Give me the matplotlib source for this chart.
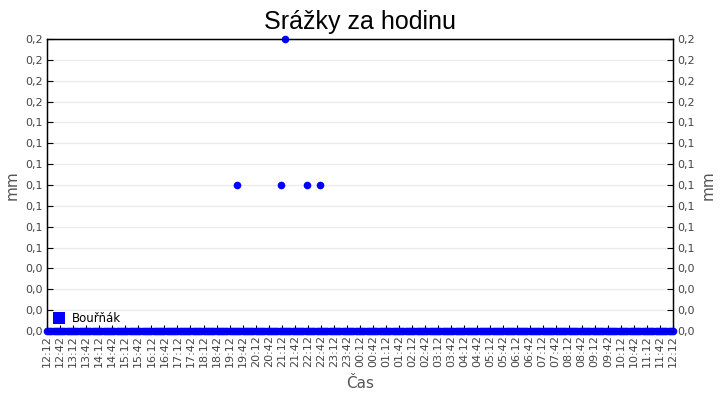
import matplotlib
matplotlib.use("Agg")
import matplotlib.pyplot as plt
import matplotlib.dates as mdates
import numpy as np
import pandas as pd

# ---- data ----
start = pd.Timestamp("2024-01-01 12:12")
end = pd.Timestamp("2024-01-02 12:12")
base_times = pd.date_range(start, end, freq="5min")
base_values = [0.0] * len(base_times)

rain_times = ["2024-01-01 19:30", "2024-01-01 21:10", "2024-01-01 21:19",
              "2024-01-01 22:09", "2024-01-01 22:39"]
rain_values = [0.1, 0.1, 0.2, 0.1, 0.1]

tick_times = pd.date_range(start, end, freq="30min")
tick_labels = [t.strftime("%H:%M") for t in tick_times]

series_name = "Bouřňák"
title = "Srážky za hodinu"

# ---- figure ----
plt.rcParams['font.family'] = ['DejaVu Sans']
fig = plt.figure(figsize=(7.2, 4.0), dpi=100)
ax = fig.add_axes([47/720, 1-331/400, (673-47)/720, (331-39)/400])

x_all = list(base_times) + list(pd.to_datetime(rain_times))
y_all = list(base_values) + list(rain_values)
ax.plot(x_all, y_all, linestyle="none", marker="o", markersize=5.5,
        markeredgewidth=0, color="#0000ff", clip_on=False, zorder=5,
        label=series_name)

ax.set_xlim(start, end)
ax.set_ylim(0, 0.2)
yt = np.linspace(0, 0.2, 15)
ax.set_yticks(yt)
fmt = lambda v: f"{v:.1f}".replace(".", ",")
ax.set_yticklabels([fmt(v) for v in yt])
ax.set_xticks(tick_times)
ax.set_xticklabels(tick_labels, rotation=90)

ax.grid(axis="y", color="#ebebeb", linewidth=1)
ax.set_axisbelow(True)
ax.tick_params(axis="both", direction="in", length=4, color="#000000",
               labelsize=8, labelcolor="#444444", pad=3)
for s in ax.spines.values():
    s.set_color("#000000")
    s.set_linewidth(1)

ax2 = ax.twinx()
ax2.set_ylim(0, 0.2)
ax2.set_yticks(yt)
ax2.set_yticklabels([fmt(v) for v in yt])
ax2.tick_params(axis="y", direction="in", length=4, labelsize=8,
                labelcolor="#444444", pad=3)
ax2.set_ylabel("mm", fontsize=11, color="#555555", labelpad=4)

ax.set_ylabel("mm", fontsize=11, color="#555555", labelpad=4)
ax.set_xlabel("Čas", fontsize=11, color="#555555", labelpad=6)
fig.text(0.5, 1-22/400, title, ha="center", va="center", fontsize=18,
         color="#000000", family=["Liberation Sans", "DejaVu Sans"])

leg = ax.legend(loc="lower left", frameon=False, fontsize=8.5, handlelength=0.8,
                handletextpad=0.7, borderaxespad=0.0,
                bbox_to_anchor=(0.004, 0.005))
for h in leg.legend_handles:
    h.set_marker("s")
    h.set_markersize(9)

fig.savefig("out.png", dpi=100)
